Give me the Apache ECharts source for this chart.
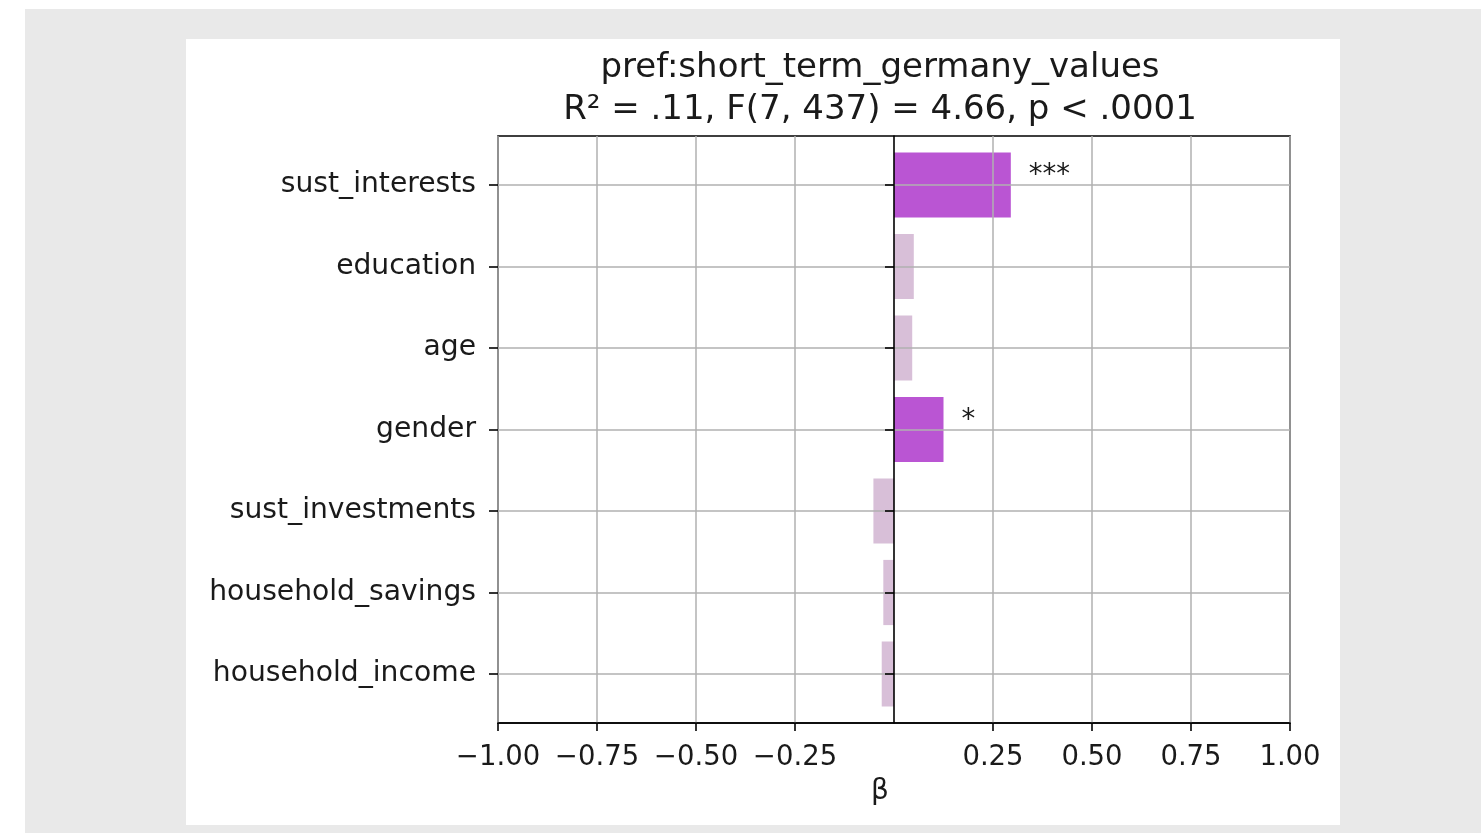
<!DOCTYPE html>
<html>
<head>
<meta charset="utf-8">
<script src="https://cdn.jsdelivr.net/npm/echarts@6/dist/echarts.min.js"></script>
<style>
  html, body { margin: 0; padding: 0; background: #fff; }
  #bg { position: absolute; left: 25px; top: 9px; width: 1456px; height: 824px; background: #e9e9e9; }
  #panel { position: absolute; left: 186px; top: 39px; width: 1154px; height: 786px; background: #fff; }
  #chart { position: absolute; left: 0; top: 0; width: 1481px; height: 833px; }
</style>
</head>
<body>
<div id="bg"></div>
<div id="panel"></div>
<div id="chart"></div>
<script>
// predictors (top to bottom) and standardized coefficients
const predictors = ['sust_interests', 'education', 'age', 'gender', 'sust_investments', 'household_savings', 'household_income']
const betas = [0.295, 0.050, 0.046, 0.125, -0.052, -0.027, -0.031]
const stars = ['***', '', '', '*', '', '', '']
const xTicks = [-1, -0.75, -0.5, -0.25, 0.25, 0.5, 0.75, 1]

const font = 'DejaVu Sans'
const ink = '#1a1a1a'
const fmtTick = v => (v < 0 ? '\u2212' : '') + Math.abs(v).toFixed(2)

const chart = echarts.init(document.getElementById('chart'))

const option = {
  backgroundColor: 'transparent',
  animation: false,
  textStyle: { fontFamily: font },
  title: {
    text: 'pref:short_term_germany_values\nR\u00b2 = .11, F(7, 437) = 4.66, p < .0001',
    left: 875,
    top: 42,
    textAlign: 'center',
    textStyle: { fontFamily: font, fontSize: 34, fontWeight: 'normal', color: ink, lineHeight: 42 }
  },
  grid: [
    // frame, x axis
    { left: 498, top: 136, width: 792, height: 587, show: true, borderColor: '#000', borderWidth: 1.6, backgroundColor: 'transparent' },
    // bar rows (category centres)
    { left: 498, top: 185, width: 792, height: 489 }
  ],
  xAxis: [
    {
      gridIndex: 0, type: 'value', min: -1, max: 1, interval: 0.25, z: 3,
      name: '\u03b2', nameLocation: 'middle', nameGap: 55,
      nameTextStyle: { fontFamily: font, fontSize: 28, color: ink, padding: [0, 28, 0, 0] },
      axisLine: { show: true, lineStyle: { color: '#000', width: 1.6 } },
      axisTick: { show: true, length: 8, customValues: xTicks, lineStyle: { color: '#000', width: 1.6 } },
      axisLabel: { customValues: xTicks, formatter: fmtTick, fontFamily: font, fontSize: 27.5, color: ink, margin: 21 },
      splitLine: { show: true, lineStyle: { color: '#b0b0b0', width: 1.5 } }
    },
    {
      gridIndex: 1, type: 'value', min: -1, max: 1, show: false,
      splitLine: { show: false }
    }
  ],
  yAxis: [
    {
      gridIndex: 1, type: 'category', data: predictors, inverse: true, boundaryGap: false, z: 3,
      axisLine: { show: false, onZero: false },
      axisTick: { show: true, length: 9, lineStyle: { color: '#000', width: 1.6 } },
      axisLabel: { fontFamily: font, fontSize: 28.2, color: ink, margin: 22, padding: [6, 0, 0, 0] },
      splitLine: { show: true, lineStyle: { color: '#b0b0b0', width: 1.5 } }
    },
    {
      // ticks along the zero line
      gridIndex: 1, type: 'category', data: predictors, inverse: true, boundaryGap: false, z: 4,
      position: 'left',
      axisLine: { show: false, onZero: true },
      axisTick: { show: true, inside: false, length: 9, lineStyle: { color: '#000', width: 1.6 } },
      axisLabel: { show: false },
      splitLine: { show: false }
    },
    {
      // zero line over the full frame height
      gridIndex: 0, type: 'value', min: 0, max: 1, z: 4, position: 'left',
      axisLine: { show: true, onZero: true, lineStyle: { color: '#000', width: 1.6 } },
      axisTick: { show: false },
      axisLabel: { show: false },
      splitLine: { show: false }
    }
  ],
  series: [{
    type: 'bar',
    xAxisIndex: 1,
    yAxisIndex: 0,
    clip: false,
    barWidth: '80%',
    data: betas.map((v, i) => ({
      value: v,
      itemStyle: { color: stars[i] ? '#ba55d3' : '#d8bfd8' }
    })),
    label: {
      show: true,
      position: 'right',
      distance: 18,
      offset: [0, -9],
      fontFamily: font,
      fontSize: 27.5,
      color: ink,
      formatter: p => stars[p.dataIndex]
    }
  }]
}

chart.setOption(option)
</script>
</body>
</html>
